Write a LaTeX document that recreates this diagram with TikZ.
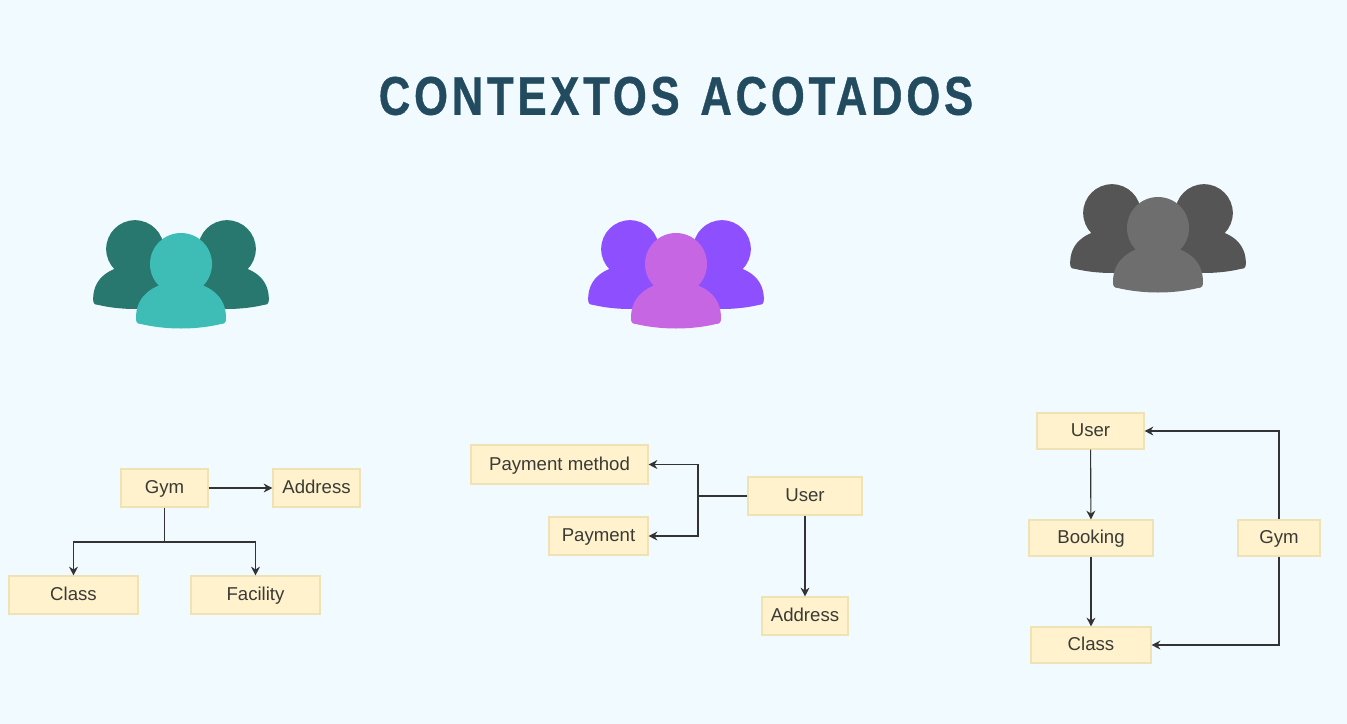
\documentclass[tikz,border=0pt]{standalone}
\usepackage{fontspec}
\setmainfont{Liberation Sans}
\newfontfamily\titlefont[FakeStretch=0.8,LetterSpace=7,FakeBold=0.7,WordSpace=1.3]{Liberation Sans Bold}
\usetikzlibrary{positioning, arrows.meta, calc}
\definecolor{pageBg}{HTML}{F1FAFE}
\definecolor{titleInk}{HTML}{234B60}
\definecolor{boxFill}{HTML}{FFF2CC}
\definecolor{boxLine}{HTML}{EFE2B4}
\definecolor{boxInk}{HTML}{3A3A36}
\definecolor{wireInk}{HTML}{333333}
\definecolor{tealBack}{HTML}{29786F}
\definecolor{tealFront}{HTML}{3DBDB5}
\definecolor{purpleBack}{HTML}{8E4FFF}
\definecolor{purpleFront}{HTML}{C766E3}
\definecolor{greyBack}{HTML}{555555}
\definecolor{greyFront}{HTML}{6E6E6E}
\tikzstyle{entity}=[draw=boxLine, fill=boxFill, text=boxInk, line width=0.6pt, inner sep=0pt, text height=8pt, text depth=1.2pt, font=\fontsize{10.6}{12}\selectfont]
\tikzstyle{arrow}=[-{Stealth[length=5pt, width=5pt]}, draw=wireInk, line width=0.65pt]
\tikzstyle{line}=[draw=wireInk, line width=0.65pt]
% one person: x, y of the head, scale, colour
\newcommand{\person}[4]{
  \begin{scope}[shift={(#1,#2)}, scale=#3]
    \fill[#4] (0,0) circle [radius=31];
    \fill[#4] (-45,54) .. controls (-45,34) and (-32,20) .. (0,16) ..
      controls (32,20) and (45,34) .. (45,54) ..
      controls (45,58) and (44,60) .. (40,60) ..
      controls (15,66) and (-15,66) .. (-40,60) ..
      controls (-44,60) and (-45,58) .. (-45,54) -- cycle;
  \end{scope}
}
% a group of three: x, y of the front head, back and front colour
\newcommand{\people}[4]{
  \person{#1-46}{#2-15}{0.93}{#3}
  \person{#1+46}{#2-15}{0.93}{#3}
  \person{#1}{#2}{1}{#4}
}

\begin{document}
\begin{tikzpicture}[x=0.02cm, y=-0.02cm]
  \fill[pageBg] (0,0) rectangle (1347,724);
  \useasboundingbox (0,0) rectangle (1347,724);

  \node[text=titleInk, font=\titlefont\fontsize{31}{36}\selectfont] (title) at (676,96) {CONTEXTOS ACOTADOS};

  \people{181}{264}{tealBack}{tealFront}
  \people{676}{264}{purpleBack}{purpleFront}
  \people{1158}{228}{greyBack}{greyFront}

  % left
  \node[entity, minimum width=87*0.02cm, minimum height=38*0.02cm] (gymA) at (164.5,488) {Gym};
  \node[entity, minimum width=87*0.02cm, minimum height=38*0.02cm] (addressA) at (316.5,488) {Address};
  \node[entity, minimum width=129*0.02cm, minimum height=38*0.02cm] (classA) at (73.5,595) {Class};
  \node[entity, minimum width=129*0.02cm, minimum height=38*0.02cm] (facilityA) at (255.5,595) {Facility};
  \coordinate (forkA) at (164.5,542);
  \draw[arrow] (gymA) -- (addressA);
  \draw[line] (gymA) -- (forkA);
  \draw[arrow] (forkA) -| (classA);
  \draw[arrow] (forkA) -| (facilityA);

  % middle
  \node[entity, minimum width=177*0.02cm, minimum height=39*0.02cm] (methodB) at (559.5,464.5) {Payment method};
  \node[entity, minimum width=114*0.02cm, minimum height=38*0.02cm] (userB) at (805,496) {User};
  \node[entity, minimum width=99*0.02cm, minimum height=38*0.02cm] (paymentB) at (598.5,536) {Payment};
  \node[entity, minimum width=86*0.02cm, minimum height=38*0.02cm] (addressB) at (805,616) {Address};
  \coordinate (forkB) at (698,496);
  \draw[line] (userB) -- (forkB);
  \draw[arrow] (forkB) |- (methodB);
  \draw[arrow] (forkB) |- (paymentB);
  \draw[arrow] (userB) -- (addressB);

  % right
  \node[entity, minimum width=107*0.02cm, minimum height=36*0.02cm] (userC) at (1090.5,431) {User};
  \node[entity, minimum width=124*0.02cm, minimum height=36*0.02cm] (bookingC) at (1091,538) {Booking};
  \node[entity, minimum width=82*0.02cm, minimum height=36*0.02cm] (gymC) at (1279,538) {Gym};
  \node[entity, minimum width=120*0.02cm, minimum height=36*0.02cm] (classC) at (1091,645) {Class};
  \draw[arrow] (userC) -- (bookingC);
  \draw[arrow] (bookingC) -- (classC);
  \draw[arrow] (gymC) |- (userC);
  \draw[arrow] (gymC) |- (classC);
\end{tikzpicture}
\end{document}
